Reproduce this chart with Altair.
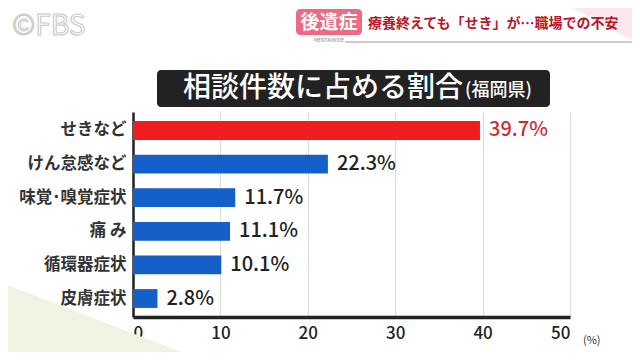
import altair as alt
import pandas as pd

categories = ["せきなど", "けん怠感など", "味覚･嗅覚症状", "痛 み", "循環器症状", "皮膚症状"]
values = [39.7, 22.3, 11.7, 11.1, 10.1, 2.8]
bar_colors = ["#ef1d1d", "#1560c8", "#1560c8", "#1560c8", "#1560c8", "#1560c8"]
label_colors = ["#cc2e38", "#222222", "#222222", "#222222", "#222222", "#222222"]
x_ticks = [0, 10, 20, 30, 40, 50]

title_main = "相談件数に占める割合"
title_sub = "(福岡県)"
badge = "後遺症"
headline = "療養終えても「せき」が…職場での不安"
logo = "©FBS"
brand = "MENTAIWIDE"
unit = "(%)"

FONT = "Noto Sans CJK JP"

df = pd.DataFrame({
    "cat": categories,
    "val": values,
    "color": bar_colors,
    "lcolor": label_colors,
    "label": [f"{v}%" for v in values],
})

y_enc = alt.Y("cat:N", sort=categories, title=None,
              scale=alt.Scale(paddingInner=0.44, paddingOuter=0.27),
              axis=alt.Axis(ticks=False, domainColor="#222", domainWidth=2.5,
                            labelFontSize=16.5, labelFontWeight="bold", labelColor="#333",
                            labelPadding=7, labelFont=FONT, grid=False))
x_enc = alt.X("val:Q", title=None, scale=alt.Scale(domain=[0, 50], nice=False),
              axis=alt.Axis(values=x_ticks, grid=True, gridColor="#dcdcdc", gridWidth=1.2,
                            ticks=False, domainColor="#222", domainWidth=3.5,
                            labelFontSize=17, labelColor="#222", labelFont=FONT,
                            labelFontWeight=500, labelPadding=8))

base = alt.Chart(df)
bars = base.mark_bar().encode(x=x_enc, y=y_enc, color=alt.Color("color:N", scale=None))
labels = base.mark_text(align="left", baseline="middle", dx=9, fontSize=20,
                        font=FONT, fontWeight=500).encode(
    x="val:Q", y=alt.Y("cat:N", sort=categories), text="label:N",
    color=alt.Color("lcolor:N", scale=None))


def txt(t, x, y, **kw):
    return alt.Chart(pd.DataFrame({"t": [t]})).mark_text(font=FONT, **kw).encode(
        x=alt.value(x), y=alt.value(y), text="t:N")


one = pd.DataFrame({"a": [0]})

# decorative background wedges (thick angled rules)
green_wedge = alt.Chart(one).mark_rule(color="#eef3e2", strokeWidth=120, strokeCap="butt").encode(
    x=alt.value(-248), y=alt.value(190), x2=alt.value(125), y2=alt.value(334))
pink_wedge = alt.Chart(one).mark_rule(color="#fce8ec", strokeWidth=100, strokeCap="butt").encode(
    x=alt.value(360), y=alt.value(-204), x2=alt.value(624), y2=alt.value(-61))

title_box = alt.Chart(one).mark_rect(color="#222", cornerRadius=4).encode(
    x=alt.value(24), x2=alt.value(417), y=alt.value(-42), y2=alt.value(-5))
title_t = txt(title_main, 50, -23, align="left", baseline="middle", fontSize=28,
              color="white", fontWeight=500)
title_s = txt(title_sub, 332, -21, align="left", baseline="middle", fontSize=18,
              color="white", fontWeight=500)

badge_box = alt.Chart(one).mark_rect(color="#ec6a84", cornerRadius=4).encode(
    x=alt.value(163), x2=alt.value(229), y=alt.value(-103), y2=alt.value(-77))
badge_t = txt(badge, 196, -89, align="center", baseline="middle", fontSize=19,
              color="white", fontWeight="bold")
brand_t = txt(brand, 196, -72, align="center", baseline="middle", fontSize=5,
              color="#888")
head_t = txt(headline, 235, -88, align="left", baseline="middle", fontSize=14,
             color="#b3182d", fontWeight="bold")
underline = alt.Chart(one).mark_rule(color="#bbbbbb", strokeWidth=1.5).encode(
    x=alt.value(212), x2=alt.value(507), y=alt.value(-70))
logo_t = txt(logo, -121, -85, align="left", baseline="middle", fontSize=28,
             color="#ffffff", stroke="#c8c8c8", strokeWidth=1.1)
unit_t = txt(unit, 450, 229, align="left", baseline="middle", fontSize=11,
             color="#333")

chart = alt.layer(
    green_wedge, pink_wedge,
    bars, labels, title_box, title_t, title_s,
    badge_box, badge_t, brand_t, head_t, underline, logo_t, unit_t
).properties(
    width=437, height=205,
    autosize=alt.AutoSizeParams(type="none"),
    padding={"left": 125, "top": 104, "right": 62, "bottom": 35},
    background="white",
).configure_view(stroke=None)

chart.save("out.html", embed_options={"renderer": "svg", "actions": False})
